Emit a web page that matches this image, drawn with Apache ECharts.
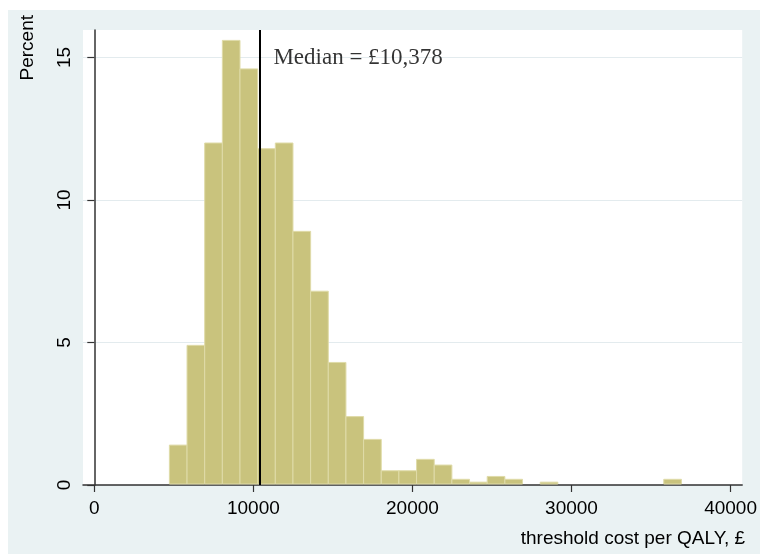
<!DOCTYPE html>
<html>
<head>
<meta charset="utf-8">
<script src="https://cdn.jsdelivr.net/npm/echarts@6/dist/echarts.min.js"></script>
<style>
  html, body { margin: 0; padding: 0; background: #fff; }
  #backdrop { position: absolute; left: 8px; top: 10px; width: 752px; height: 544px; background: #eaf2f3; }
  #chart { position: absolute; left: 0; top: 0; width: 760px; height: 554px; }
</style>
</head>
<body>
<div id="backdrop"></div>
<div id="chart"></div>
<script>
// histogram bins: left edge of first bin + width, one percent value per bin
var binStart = 4720
var binWidth = 1110
var percents = [1.4, 4.9, 12.0, 15.6, 14.6, 11.8, 12.0, 8.9, 6.8, 4.3, 2.4, 1.6, 0.5, 0.5, 0.9, 0.7,
  0.2, 0.1, 0.3, 0.2, 0, 0.1, 0, 0, 0, 0, 0, 0, 0.2]
var xTicks = [0, 10000, 20000, 30000, 40000]
var yTicks = [0, 5, 10, 15]
var median = 10378
var medianText = 'Median = £10,378'
var xTitle = 'threshold cost per QALY, £'
var yTitle = 'Percent'

var bins = percents.map(function (p, i) {
  return [binStart + i * binWidth, binStart + (i + 1) * binWidth, p]
})

var sans = '"Liberation Sans", Arial, sans-serif'
var serif = '"Liberation Serif", "DejaVu Serif", serif'
var axisColor = '#333'
var plain = function (v) { return String(v) } // no thousands separator

var chart = echarts.init(document.getElementById('chart'), null, { renderer: 'canvas' })

chart.setOption({
  animation: false,
  grid: { left: 83, right: 16, top: 30, bottom: 69, show: true, backgroundColor: '#fff', borderWidth: 0 },
  xAxis: {
    type: 'value',
    min: -710,
    max: 40730,
    axisLine: { show: true, lineStyle: { color: axisColor, width: 1.5 } },
    axisTick: { show: true, length: 7, customValues: xTicks, lineStyle: { color: axisColor, width: 1.2 } },
    axisLabel: { customValues: xTicks, formatter: plain, fontSize: 19, fontFamily: sans, color: '#000', margin: 14 },
    splitLine: { show: false }
  },
  yAxis: {
    type: 'value',
    min: 0,
    max: 15.965,
    interval: 5,
    axisLine: { show: true, lineStyle: { color: axisColor, width: 1.5 } },
    axisTick: { show: true, length: 7, customValues: yTicks, lineStyle: { color: axisColor, width: 1.2 } },
    axisLabel: { customValues: yTicks, formatter: plain, rotate: 90, fontSize: 19, fontFamily: sans, color: '#000', margin: 9 },
    splitLine: { show: true, lineStyle: { color: '#e3ebee', width: 1.2 } }
  },
  graphic: [
    {
      type: 'text', x: 28, y: 15, rotation: Math.PI / 2,
      style: { text: yTitle, fontSize: 19, fontFamily: sans, fill: '#000', align: 'right', verticalAlign: 'middle' }
    },
    {
      type: 'text', x: 745, y: 539,
      style: { text: xTitle, fontSize: 19, fontFamily: sans, fill: '#000', align: 'right', verticalAlign: 'middle' }
    }
  ],
  series: [
    {
      type: 'custom',
      data: bins,
      renderItem: function (params, api) {
        if (!api.value(2)) return null
        var lo = api.coord([api.value(0), 0])
        var hi = api.coord([api.value(1), api.value(2)])
        return {
          type: 'rect',
          shape: { x: lo[0], y: hi[1], width: hi[0] - lo[0], height: lo[1] - 1 - hi[1] },
          style: { fill: '#c9c37d', stroke: '#dfdba8', lineWidth: 1 }
        }
      },
      markLine: {
        silent: true,
        symbol: 'none',
        label: { show: false },
        lineStyle: { color: '#000', width: 2, type: 'solid' },
        data: [{ xAxis: median }]
      }
    },
    {
      type: 'scatter',
      symbolSize: 0,
      data: [[median, 15.0]],
      label: {
        show: true, position: 'right', distance: 14, formatter: medianText,
        fontSize: 23, fontFamily: serif, color: '#000'
      }
    }
  ]
})
</script>
</body>
</html>
